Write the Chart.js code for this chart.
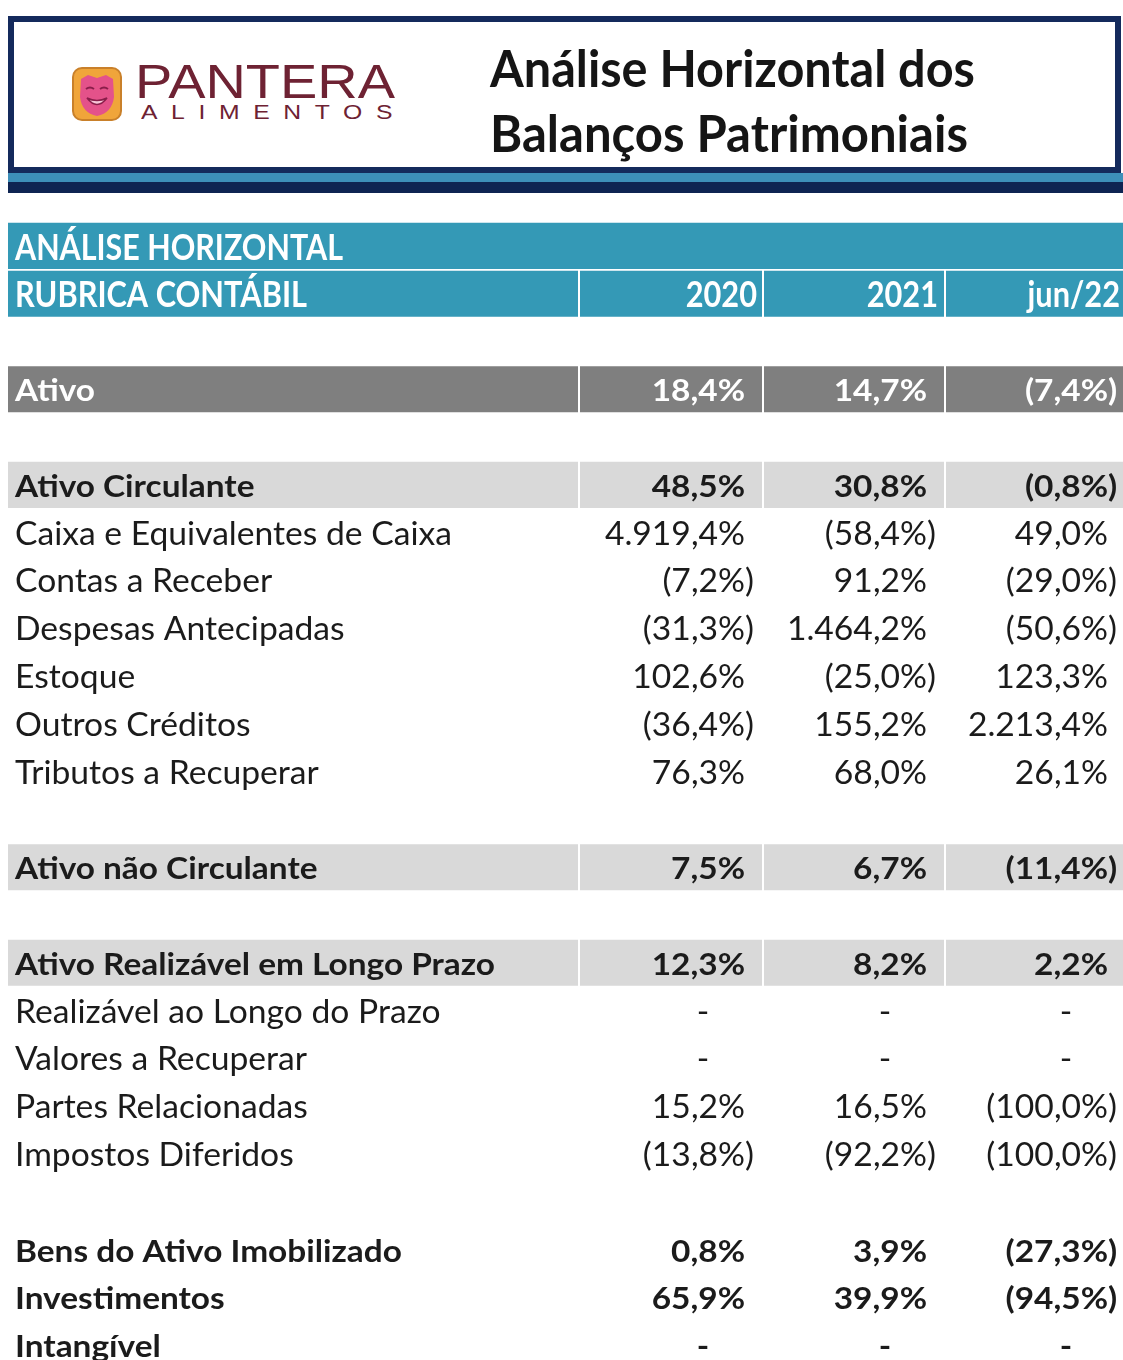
<!DOCTYPE html>
<html lang="pt-BR">
<head>
<meta charset="utf-8">
<title>Análise Horizontal dos Balanços Patrimoniais</title>
<script src="https://cdn.jsdelivr.net/npm/chart.js@4.4.1/dist/chart.umd.min.js"></script>
<style>
  html, body { margin: 0; padding: 0; background: #fff; overflow: hidden; }
  #pagina { position: relative; width: 1123px; height: 1370px; }
  #tabela { position: absolute; left: 0; top: 0; }
  #moldura { position: absolute; left: 8px; top: 16px; width: 1113px; height: 157px;
             border: 6px solid #142a5c; box-sizing: border-box; background: #fff; }
  #faixa1 { position: absolute; left: 8px; top: 173px; width: 1115px; height: 9px; background: #3d8fb9; }
  #faixa2 { position: absolute; left: 8px; top: 182px; width: 1115px; height: 11px; background: #0e2452; }
  #icone { position: absolute; left: 72px; top: 67px; }
  .ajusta { position: absolute; white-space: nowrap; line-height: 1; transform-origin: 0 0; }
  #marca { left: 135px; top: 54px; font: 400 48px "Liberation Sans", sans-serif; color: #6e2233; }
  #submarca { left: 141px; top: 101px; font: 400 20px "Liberation Sans", sans-serif; color: #6e2233; letter-spacing: 11px; }
  #titulo1 { left: 490px; top: 37px; font: 700 51px Lato, sans-serif; color: #151515; }
  #titulo2 { left: 490px; top: 102px; font: 700 51px Lato, sans-serif; color: #151515; }
</style>
</head>
<body>
<div id="pagina">
  <canvas id="tabela" width="1123" height="1370"></canvas>
  <div id="moldura"></div>
  <div id="faixa1"></div>
  <div id="faixa2"></div>
  <svg id="icone" width="50" height="54" viewBox="0 0 50 54">
    <rect x="1" y="1" width="48" height="52" rx="9" fill="#f0a53a" stroke="#c9802a" stroke-width="2"/>
    <path d="M9 12 L16 8 L25 11 L34 8 L41 12 L42 30 Q40 46 25 49 Q10 46 8 30 Z" fill="#e4528a"/>
    <path d="M14 22 Q18 19 22 22 M28 22 Q32 19 36 22" stroke="#8a1e4a" stroke-width="2" fill="none"/>
    <path d="M15 31 Q25 44 35 31 Q25 36 15 31 Z" fill="#f7c6d8" stroke="#8a1e4a" stroke-width="1.5"/>
  </svg>
  <div id="marca" class="ajusta" data-largura="260">PANTERA</div>
  <div id="submarca" class="ajusta" data-largura="265">ALIMENTOS</div>
  <div id="titulo1" class="ajusta" data-largura="485">Análise Horizontal dos</div>
  <div id="titulo2" class="ajusta" data-largura="478">Balanços Patrimoniais</div>
</div>
<script>
// linhas da tabela, de cima para baixo
const rubricas = [
  'ANÁLISE HORIZONTAL', 'RUBRICA CONTÁBIL', '',
  'Ativo', '',
  'Ativo Circulante', 'Caixa e Equivalentes de Caixa', 'Contas a Receber', 'Despesas Antecipadas',
  'Estoque', 'Outros Créditos', 'Tributos a Recuperar', '',
  'Ativo não Circulante', '',
  'Ativo Realizável em Longo Prazo', 'Realizável ao Longo do Prazo', 'Valores a Recuperar',
  'Partes Relacionadas', 'Impostos Diferidos', '',
  'Bens do Ativo Imobilizado', 'Investimentos', 'Intangível'
];
const tipos = [
  'titulo', 'cabecalho', 'vazio',
  'total', 'vazio',
  'grupo', 'item', 'item', 'item', 'item', 'item', 'item', 'vazio',
  'grupo', 'vazio',
  'grupo', 'item', 'item', 'item', 'item', 'vazio',
  'destaque', 'destaque', 'destaque'
];
const colunas = ['2020', '2021', 'jun/22'];

// variação horizontal em %, null = "-"
const var2020 = [null, null, null, 18.4, null, 48.5, 4919.4, -7.2, -31.3, 102.6, -36.4, 76.3, null,
  7.5, null, 12.3, null, null, 15.2, -13.8, null, 0.8, 65.9, null];
const var2021 = [null, null, null, 14.7, null, 30.8, -58.4, 91.2, 1464.2, -25.0, 155.2, 68.0, null,
  6.7, null, 8.2, null, null, 16.5, -92.2, null, 3.9, 39.9, null];
const varJun22 = [null, null, null, -7.4, null, -0.8, 49.0, -29.0, -50.6, 123.3, 2213.4, 26.1, null,
  -11.4, null, 2.2, null, null, -100.0, -100.0, null, -27.3, -94.5, null];
const valores = [var2020, var2021, varJun22];

// layout (unidades do eixo x = pixels)
const bordas = [8, 578, 762, 944, 1123];
const margemValor = [745, 927, 1108];
const margemColuna = [757, 938, 1120];
const xRotulo = 15;

const corFaixa = { titulo: '#3499b6', cabecalho: '#3499b6', total: '#7f7f7f', grupo: '#d9d9d9' };

const estilos = {
  titulo:    { peso: 700, tam: 36, cor: '#ffffff', ref: 'ANÁLISE HORIZONTAL', largura: 328, desce: 14 },
  cabecalho: { peso: 700, tam: 36, cor: '#ffffff', ref: 'RUBRICA CONTÁBIL', largura: 292, desce: 13 },
  total:     { peso: 700, tam: 30, cor: '#ffffff', ref: 'Ativo Realizável em Longo Prazo', largura: 480, desce: 12 },
  grupo:     { peso: 700, tam: 30, cor: '#1b1b1b', ref: 'Ativo Realizável em Longo Prazo', largura: 480, desce: 12 },
  destaque:  { peso: 700, tam: 30, cor: '#1b1b1b', ref: 'Ativo Realizável em Longo Prazo', largura: 480, desce: 12 },
  item:      { peso: 400, tam: 33, cor: '#1b1b1b', ref: 'Caixa e Equivalentes de Caixa', largura: 437, desce: 12 }
};

function formata(v) {
  const [int, dec] = Math.abs(v).toFixed(1).split('.');
  return int.replace(/\B(?=(\d{3})+(?!\d))/g, '.') + ',' + dec + '%';
}

function fonte(est) {
  return est.peso + ' ' + est.tam + 'px Lato, sans-serif';
}

function escrever(ctx, texto, px, py, alinhamento, est) {
  ctx.save();
  ctx.font = fonte(est);
  ctx.fillStyle = est.cor;
  ctx.translate(px, py);
  ctx.scale(est.sx, 1);
  ctx.textAlign = alinhamento;
  ctx.textBaseline = 'alphabetic';
  ctx.fillText(texto, 0, 0);
  ctx.restore();
}

const textoTabela = {
  id: 'textoTabela',
  afterDatasetsDraw(chart) {
    const { ctx, scales: { x, y } } = chart;
    rubricas.forEach((rotulo, i) => {
      const tipo = tipos[i];
      if (tipo === 'vazio') return;
      const est = estilos[tipo];
      const base = y.getPixelForValue(i) + est.desce;
      escrever(ctx, rotulo, x.getPixelForValue(xRotulo), base, 'left', est);
      if (tipo === 'titulo') return;
      if (tipo === 'cabecalho') {
        colunas.forEach((c, k) => escrever(ctx, c, x.getPixelForValue(margemColuna[k]), base, 'right', est));
        return;
      }
      valores.forEach((serie, k) => {
        const v = serie[i];
        const px = x.getPixelForValue(margemValor[k]);
        if (v === null) {
          escrever(ctx, '-', px - 42, base, 'center', est);
        } else if (v < 0) {
          escrever(ctx, '(' + formata(v), px, base, 'right', est);
          escrever(ctx, ')', px, base, 'left', est);
        } else {
          escrever(ctx, formata(v), px, base, 'right', est);
        }
      });
    });
  }
};

function faixa(i, k) {
  const tipo = tipos[i];
  if (!corFaixa[tipo]) return null;
  const folga = (tipo === 'titulo' || k === 0) ? 0 : 2;
  return [bordas[k] + folga, bordas[k + 1]];
}

async function iniciar() {
  try {
    await Promise.all([
      document.fonts.load('400 33px Lato'), document.fonts.load('700 30px Lato'),
      document.fonts.load('400 48px "Liberation Sans"')
    ]);
  } catch (e) {}

  document.querySelectorAll('.ajusta').forEach(el => {
    const alvo = +el.dataset.largura;
    el.style.transform = 'scaleX(' + (alvo / el.getBoundingClientRect().width) + ')';
  });

  const medida = document.createElement('canvas').getContext('2d');
  Object.values(estilos).forEach(est => {
    medida.font = fonte(est);
    est.sx = est.largura / medida.measureText(est.ref).width;
  });

  const ctx = document.getElementById('tabela').getContext('2d');
  new Chart(ctx, {
    type: 'bar',
    data: {
      labels: rubricas,
      datasets: colunas.concat(['rubrica']).map((_, k) => ({
        label: 'faixa ' + k,
        data: rubricas.map((_, i) => faixa(i, k)),
        backgroundColor: rubricas.map((_, i) => corFaixa[tipos[i]] || 'rgba(0,0,0,0)'),
        grouped: false,
        categoryPercentage: 1,
        barPercentage: 0.965,
        borderWidth: 0
      }))
    },
    options: {
      indexAxis: 'y',
      responsive: false,
      animation: false,
      layout: { padding: { top: 222, bottom: 1, left: 0, right: 0 } },
      plugins: { legend: { display: false }, tooltip: { enabled: false } },
      scales: {
        x: { type: 'linear', min: 0, max: 1123, display: false },
        y: { type: 'category', display: false }
      }
    },
    plugins: [textoTabela]
  });
}

iniciar();
</script>
</body>
</html>
